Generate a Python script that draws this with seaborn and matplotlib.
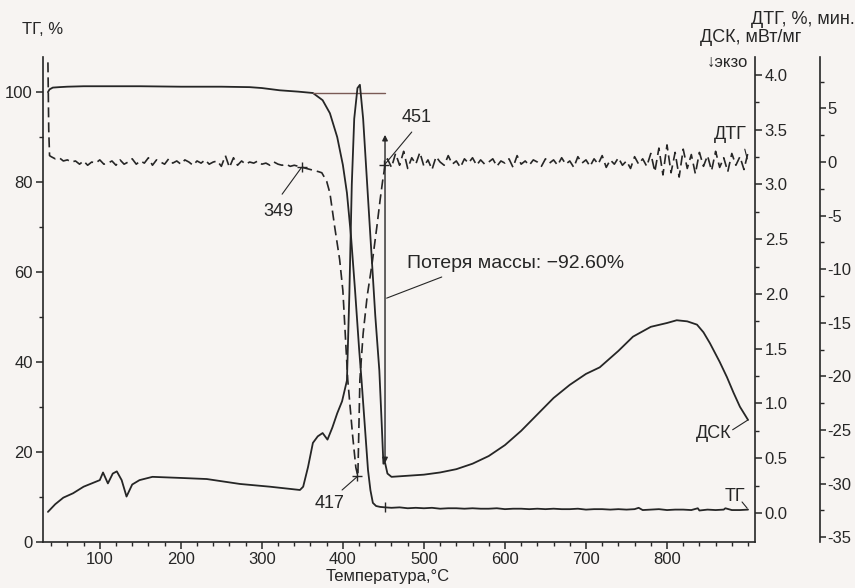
import numpy as np
import pandas as pd
import matplotlib
matplotlib.use("Agg")
import matplotlib.pyplot as plt
import seaborn as sns

# ---------------- data ----------------
tg_t = [36, 38, 42, 50, 60, 80, 100, 150, 200, 250, 285, 300, 322, 345, 363, 375, 384,
        393, 400, 405, 410, 415, 420, 423, 427, 431, 434, 437, 441, 446, 452, 460, 470,
        480, 490, 500, 510, 520, 530, 540, 550, 560, 570, 580, 590, 600, 610, 620, 630,
        640, 650, 660, 670, 680, 690, 700, 710, 720, 730, 740, 750, 760, 765, 770, 780,
        790, 800, 810, 820, 830, 838, 840, 850, 860, 870, 872, 880, 890, 900]
tg_v = [100.0, 100.6, 101.0, 101.1, 101.2, 101.3, 101.3, 101.3, 101.2, 101.2, 101.1, 100.9,
        100.4, 100.1, 99.8, 98.2, 95.3, 90.0, 83.8, 77.6, 68.0, 56.0, 43.0, 36.0, 26.0,
        16.0, 11.5, 8.7, 8.0, 7.8, 7.7, 7.6, 7.7, 7.5, 7.6, 7.5, 7.6, 7.4, 7.5, 7.5, 7.4,
        7.5, 7.4, 7.4, 7.5, 7.3, 7.4, 7.4, 7.3, 7.4, 7.3, 7.4, 7.3, 7.3, 7.4, 7.2, 7.3,
        7.3, 7.2, 7.3, 7.2, 7.3, 7.6, 7.1, 7.2, 7.3, 7.1, 7.2, 7.2, 7.1, 7.5, 7.0, 7.2,
        7.1, 7.2, 7.5, 7.1, 7.1, 7.2]

dsc_t = [36, 45, 55, 67, 80, 90, 100, 104, 110, 116, 121, 127, 133, 140, 149, 165, 200,
         232, 273, 310, 347, 351, 357, 363, 369, 375, 381, 387, 393, 399, 405, 408, 411,
         414, 418, 421, 425, 430, 435, 440, 445, 448, 450, 452, 455, 460, 480, 500, 520,
         540, 560, 580, 600, 620, 640, 660, 680, 700, 717, 740, 758, 780, 800, 812, 825,
         837, 845, 853, 865, 874, 882, 890, 900]
dsc_v = [0.01, 0.08, 0.14, 0.18, 0.24, 0.27, 0.30, 0.37, 0.27, 0.36, 0.38, 0.30, 0.15,
         0.26, 0.30, 0.33, 0.32, 0.31, 0.265, 0.24, 0.21, 0.24, 0.42, 0.64, 0.70, 0.73,
         0.67, 0.78, 0.91, 1.02, 1.21, 2.0, 3.0, 3.6, 3.88, 3.91, 3.6, 3.0, 2.4, 1.8, 1.3,
         0.8, 0.45, 0.46, 0.36, 0.33, 0.34, 0.35, 0.37, 0.40, 0.45, 0.52, 0.62, 0.75, 0.90,
         1.05, 1.17, 1.27, 1.33, 1.48, 1.61, 1.70, 1.735, 1.76, 1.75, 1.72, 1.65, 1.55,
         1.38, 1.24, 1.10, 0.97, 0.85]

dtg_t = [36, 37, 38, 40, 45, 50, 55, 60, 65, 70, 75, 80, 85, 90, 95, 100, 105, 110, 115,
         120, 125, 130, 135, 140, 145, 150, 155, 160, 165, 170, 175, 180, 185, 190, 195,
         200, 205, 210, 215, 220, 225, 230, 235, 240, 245, 250, 255, 260, 265, 270, 275,
         280, 285, 290, 295, 300, 305, 310, 315, 320, 325, 330, 335, 340, 345, 350, 355,
         360, 365, 370, 374, 380, 384, 390, 396, 400, 406, 412, 416, 418.5, 421, 425, 430,
         436, 442, 446, 449, 452, 455, 460, 465, 470, 475, 480, 485, 490, 495, 500, 505,
         510, 515, 520, 525, 530, 535, 540, 545, 550, 555, 560, 565, 570, 575, 580, 585,
         590, 595, 600, 605, 610, 615, 620, 625, 630, 635, 640, 645, 650, 655, 660, 665,
         670, 675, 680, 685, 690, 695, 700, 705, 710, 715, 720, 725, 730, 735, 740, 745,
         750, 755, 760, 765, 770, 775, 780, 785, 790, 795, 800, 805, 810, 815, 820, 825,
         830, 835, 840, 845, 850, 855, 860, 865, 870, 875, 880, 885, 890, 895, 900]
dtg_v = [9.3, 3.0, 0.6, 0.5, 0.3, 0.4, 0.1, 0.2, 0.0, 0.1, -0.2, 0.1, -0.3, 0.0, -0.1,
         0.2, -0.2, -0.1, 0.1, -0.3, 0.2, -0.2, 0.0, 0.3, -0.2, 0.1, -0.1, 0.4, -0.3, 0.2,
         0.0, -0.2, 0.3, -0.1, 0.1, -0.2, 0.2, 0.0, -0.3, 0.1, -0.1, 0.2, -0.2, 0.0, 0.1,
         -0.4, 0.6, -0.5, 0.4, -0.3, 0.1, -0.2, 0.0, -0.1, 0.1, -0.2, -0.1, -0.3, 0.0,
         -0.2, -0.3, -0.2, -0.4, -0.3, -0.4, -0.5, -0.6, -0.7, -0.8, -0.9, -1.0, -1.8,
         -2.9, -6.1, -9.1, -12.0, -20.3, -25.5, -28.5, -29.3, -20.3, -16.0, -12.5, -9.5,
         -6.0, -3.5, -1.8, -0.3, 0.3, -0.5, 0.8, -0.3, 1.0, -0.6, 0.4, -0.2, 0.9, -0.4,
         0.2, -0.7, 0.5, 0.0, -0.3, 0.6, -0.2, 0.1, -0.5, 0.3, -0.1, 0.4, -0.3, 0.2, -0.2,
         0.0, 0.3, -0.4, 0.1, -0.1, 0.3, -0.5, 0.6, -0.2, 0.1, -0.3, 0.2, 0.0, -0.4, 0.3,
         -0.1, 0.2, -0.3, 0.4, -0.2, 0.1, -0.5, 0.5, -0.1, 0.2, -0.4, 0.3, -0.2, 0.6, -0.5,
         0.2, -0.2, 0.4, -0.3, 0.1, -0.6, 0.5, -0.2, 0.3, -0.4, 0.8, -0.9, 1.3, -1.2, 1.6,
         -1.0, 0.9, -1.4, 1.2, -0.6, 0.7, -1.1, 0.9, -0.4, 0.6, -0.8, 1.0, -0.5, 0.4, -0.9,
         0.8, -0.3, 0.5, -0.7, 0.9]

# marked points
dtg_marks_t = [349, 417, 451]
dtg_marks_v = [-0.5, -29.3, -0.3]
mass_loss_text = "Потеря массы: \u221292.60%"

xticks = [100, 200, 300, 400, 500, 600, 700, 800]
tg_ticks = [0, 20, 40, 60, 80, 100]
dsc_ticks = [0.0, 0.5, 1.0, 1.5, 2.0, 2.5, 3.0, 3.5, 4.0]
dtg_ticks = [-35, -30, -25, -20, -15, -10, -5, 0, 5]

# ---------------- style ----------------
sns.set_theme(style="ticks")
INK = "#262626"
BG = "#f7f4f2"
plt.rcParams["font.family"] = ["Liberation Sans", "DejaVu Sans"]
plt.rcParams["axes.unicode_minus"] = False
plt.rcParams["text.color"] = INK
plt.rcParams["axes.edgecolor"] = INK
plt.rcParams["xtick.color"] = INK
plt.rcParams["ytick.color"] = INK
plt.rcParams["axes.labelcolor"] = INK

FS = 12
FA = 13
W, H = 855, 588
fig = plt.figure(figsize=(W / 100, H / 100), dpi=100, facecolor=BG)
L, R, T, B = 42.5, 755, 57, 542
ax = fig.add_axes([L / W, 1 - B / H, (R - L) / W, (B - T) / H])
ax.set_facecolor("none")
ax2 = ax.twinx()
ax3 = ax.twinx()

lw = 1.3
sns.lineplot(x=tg_t, y=tg_v, ax=ax, color=INK, lw=lw, sort=False, estimator=None)
sns.lineplot(x=dsc_t, y=dsc_v, ax=ax2, color=INK, lw=lw, sort=False, estimator=None)
sns.lineplot(x=dtg_t, y=dtg_v, ax=ax3, color=INK, lw=1.2, sort=False, estimator=None,
             linestyle=(0, (6, 3)))
sns.scatterplot(x=dtg_marks_t, y=dtg_marks_v, ax=ax3, marker="+", s=60, color=INK,
                linewidth=1.0, zorder=5)

# limits
ax.set_xlim(29.3, 908.6)
ax.set_ylim(0, 107.8)
ax2.set_ylim(-0.265, 4.164)
ax3.set_ylim(-35.45, 9.8)

# spines
for s in ["top", "right"]:
    ax.spines[s].set_visible(False)
for s in ["top", "left", "bottom"]:
    ax2.spines[s].set_visible(False)
    ax3.spines[s].set_visible(False)
ax3.spines["right"].set_position(("axes", (820 - L) / (R - L)))
for a in (ax, ax2, ax3):
    for s in a.spines.values():
        s.set_linewidth(1.2)

# ticks
ax.set_xticks(xticks)
ax.set_xticks(np.arange(40, 901, 20), minor=True)
ax.set_yticks(tg_ticks)
ax.set_yticks(np.arange(10, 101, 20), minor=True)
ax2.set_yticks(dsc_ticks)
ax2.set_yticks(np.arange(0.25, 4.0, 0.5), minor=True)
ax2.set_yticklabels([f"{v:.1f}" for v in dsc_ticks])
ax3.set_yticks(dtg_ticks)
ax3.set_yticks(np.arange(-32.5, 8, 5), minor=True)
for a in (ax, ax2, ax3):
    a.tick_params(which="major", length=5, width=1.1, labelsize=FS, pad=2)
    a.tick_params(which="minor", length=3, width=1.0)
ax3.tick_params(which="major", length=4, pad=1.5)
ax.set_xlabel("")
ax.set_ylabel("")
ax2.set_ylabel("")
ax3.set_ylabel("")

# axis titles
fig.text(22 / W, 1 - 30 / H, "ТГ, %", fontsize=FS, va="center", ha="left")
fig.text(388 / W, 1 - 576 / H, "Температура,°С", fontsize=FS, va="center", ha="center")
fig.text(803 / W, 1 - 20 / H, "ДТГ, %, мин.", fontsize=FA, va="center", ha="center")
fig.text(751 / W, 1 - 38 / H, "ДСК, мВт/мг", fontsize=FA, va="center", ha="center")
fig.text(748 / W, 1 - 62 / H, "\u2193экзо", fontsize=FS, va="center", ha="right")

lk = dict(color=INK, lw=0.8)

# mass-loss bracket
ax.plot([363, 452], [99.8, 99.8], color="#7a5a55", lw=1.0)
ax.annotate("", xy=(452, 90.5), xytext=(452, 17.5),
            arrowprops=dict(arrowstyle="<|-|>", color=INK, lw=1.0,
                            mutation_scale=8, shrinkA=0, shrinkB=0))
ax.plot([452], [7.7], marker="|", ms=7, color=INK, mew=1.0)
ax.text(479, 62.0, mass_loss_text, fontsize=14, va="center", ha="left")
ax.plot([522, 454], [58.9, 54.2], **lk)

# point labels (DTG axis)
ax3.text(320, -4.6, "349", fontsize=FA, ha="center", va="center")
ax3.plot([325, 349], [-3.0, -0.5], **lk)
ax3.text(491, 4.2, "451", fontsize=FA, ha="center", va="center")
ax3.plot([485, 452], [2.8, -0.2], **lk)
ax3.text(383, -31.9, "417", fontsize=FA, ha="center", va="center")
ax3.plot([399, 417], [-30.6, -29.4], **lk)

# curve labels
ax3.text(878, 2.6, "ДТГ", fontsize=FA, ha="center", va="center")
ax3.plot([896, 899], [1.2, 0.3], **lk)
ax2.text(858, 0.73, "ДСК", fontsize=FA, ha="center", va="center")
ax2.plot([881, 900], [0.76, 0.85], **lk)
ax.text(884, 10.2, "ТГ", fontsize=FA, ha="center", va="center")
ax.plot([892.6, 899], [8.9, 7.5], **lk)

fig.savefig("out.png", dpi=100, facecolor=BG)
